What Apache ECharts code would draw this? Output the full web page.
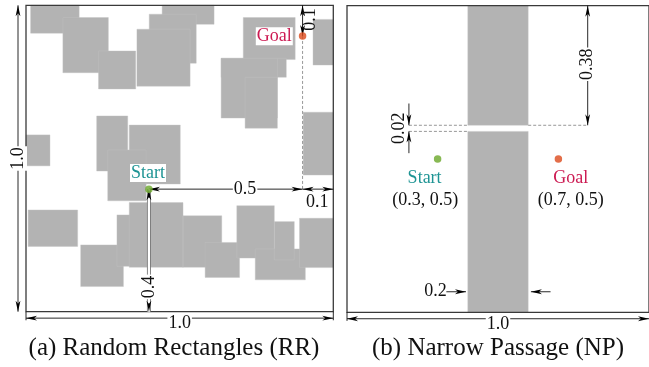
<!DOCTYPE html>
<html><head><meta charset="utf-8">
<script src="https://cdn.jsdelivr.net/npm/echarts@6/dist/echarts.min.js"></script>
<style>html,body{margin:0;padding:0;background:#fff}#c{width:649px;height:367px}</style>
</head><body><div id="c"></div>
<script>
// ---- Data (unit square coordinates) ----
// Random Rectangles obstacles: [x0, y0, x1, y1]
const rrObstacles = [
 [0.015,0.909,0.173,1.0],
 [0.12,0.78,0.268,0.96],
 [0.236,0.727,0.357,0.851],
 [0.443,0.938,0.612,1.0],
 [0.401,0.811,0.554,0.971],
 [0.361,0.736,0.534,0.922],
 [0.707,0.823,0.876,0.96],
 [0.635,0.765,0.847,0.827],
 [0.635,0.632,0.818,0.827],
 [0.713,0.599,0.818,0.765],
 [0.934,0.805,1.0,0.954],
 [0.902,0.446,1.0,0.651],
 [0,0.476,0.078,0.577],
 [0.23,0.459,0.331,0.639],
 [0.336,0.417,0.502,0.609],
 [0.266,0.362,0.391,0.528],
 [0.007,0.213,0.168,0.332],
 [0.178,0.082,0.317,0.218],
 [0.296,0.148,0.436,0.316],
 [0.336,0.145,0.511,0.356],
 [0.511,0.145,0.637,0.313],
 [0.583,0.112,0.695,0.226],
 [0.686,0.175,0.808,0.346],
 [0.746,0.104,0.909,0.205],
 [0.808,0.169,0.873,0.294],
 [0.89,0.144,1.0,0.305]
];
// Narrow Passage obstacles
const npObstacles = [[0.4,0,0.6,0.59],[0.4,0.61,0.6,1.0]];
// Start / goal points
const rrPoints = [[0.4,0.4],[0.9,0.9]];
const npPoints = [[0.3,0.5],[0.7,0.5]];
const pointColors = ['#6aa829','#dc4a1c'];
// Dimension lines: [x0, y0, x1, y1, headAtStart, headAtEnd, kind]
const rrDims = [
 [-0.026,0,-0.026,1,1,1,'solid'],
 [0,-0.021,1,-0.021,1,1,'solid'],
 [0,0,0,-0.028,0,0,'solid'],
 [1,0,1,-0.028,0,0,'solid'],
 [0.9,0.9,0.9,0.4,0,0,'dashed'],
 [0.4,0.4,0.9,0.4,1,1,'solid'],
 [0.9,0.4,1.0,0.4,1,1,'solid'],
 [0.9,1.0,0.9,0.9,1,1,'solid'],
 [0.4,0.4,0.4,0.0,1,1,'halo']
];
const npDims = [
 [0,-0.021,1,-0.021,1,1,'solid'],
 [0,0,0,-0.028,0,0,'solid'],
 [0.205,0.61,0.4,0.61,0,0,'dashed'],
 [0.205,0.59,0.4,0.59,0,0,'dashed'],
 [0.6,0.61,0.797,0.61,0,0,'dashed'],
 [0.797,1.0,0.797,0.61,1,1,'solid'],
 [0.205,0.681,0.205,0.61,0,1,'solid'],
 [0.205,0.519,0.205,0.59,0,1,'solid'],
 [0.329,0.067,0.394,0.067,0,1,'solid'],
 [0.674,0.067,0.609,0.067,0,1,'solid']
];
// Labels: [x, y, text, rotationDeg, kind]
const rrLabels = [
 [-0.026,0.5,'1.0',90,'dim'],
 [0.5,-0.039,'1.0',0,'dim'],
 [0.713,0.4,'0.5',0,'dim'],
 [0.948,0.358,'0.1',0,'plain'],
 [0.924,0.954,'0.1',90,'plain'],
 [0.4,0.081,'0.4',90,'dim'],
 [0.397,0.453,'Start',0,'start'],
 [0.808,0.899,'Goal',0,'goal']
];
const npLabels = [
 [0.5,-0.039,'1.0',0,'dim'],
 [0.797,0.809,'0.38',90,'dim'],
 [0.173,0.6,'0.02',90,'plain'],
 [0.257,0.437,'Start',0,'start'],
 [0.259,0.366,'(0.3, 0.5)',0,'plain'],
 [0.741,0.437,'Goal',0,'goal'],
 [0.741,0.366,'(0.7, 0.5)',0,'plain'],
 [0.293,0.067,'0.2',0,'plain']
];
const captions = ['(a) Random Rectangles (RR)','(b) Narrow Passage (NP)'];

// ---- Rendering ----
const SERIF = 'Liberation Serif';
const labelColors = {dim:'#111', plain:'#111', start:'#1e9494', goal:'#cc1a52'};

function rectRender(arr){
  return function(params, api){
    const d = arr[params.dataIndex];
    const a = api.coord([d[0], d[3]]), b = api.coord([d[2], d[1]]);
    return {type:'rect', shape:{x:a[0], y:a[1], width:b[0]-a[0], height:b[1]-a[1]},
      style:{fill:'#b3b3b3', stroke:'#c2c2c2', lineWidth:0.4}};
  };
}
function frameRender(params, api){
  const a = api.coord([0,1]), b = api.coord([1,0]);
  return {type:'rect', shape:{x:a[0], y:a[1], width:b[0]-a[0], height:b[1]-a[1]},
    style:{fill:'none', stroke:'#3a3a3a', lineWidth:1.3}};
}
function head(tip, from){
  const dx = tip[0]-from[0], dy = tip[1]-from[1];
  const L = Math.hypot(dx,dy) || 1, ux = dx/L, uy = dy/L;
  const len = 11, w = 2.4, notch = 8;
  return {type:'polygon', shape:{points:[
    tip,
    [tip[0]-ux*len-uy*w, tip[1]-uy*len+ux*w],
    [tip[0]-ux*notch, tip[1]-uy*notch],
    [tip[0]-ux*len+uy*w, tip[1]-uy*len-ux*w]
  ]}, style:{fill:'#000'}};
}
function dimRender(arr){
  return function(params, api){
    const d = arr[params.dataIndex];
    const p0 = api.coord([d[0], d[1]]), p1 = api.coord([d[2], d[3]]);
    const children = [];
    const shape = {x1:p0[0], y1:p0[1], x2:p1[0], y2:p1[1]};
    if (d[6] === 'dashed') {
      children.push({type:'line', shape, style:{stroke:'#8c8c8c', lineWidth:0.9, lineDash:[3,2]}});
    } else if (d[6] === 'halo') {
      children.push({type:'line', shape, style:{stroke:'#7a7a7a', lineWidth:4}});
      children.push({type:'line', shape, style:{stroke:'#ffffff', lineWidth:2.2}});
    } else {
      children.push({type:'line', shape, style:{stroke:'#111', lineWidth:0.9}});
    }
    if (d[4]) children.push(head(p0, p1));
    if (d[5]) children.push(head(p1, p0));
    return {type:'group', children};
  };
}
function labelRender(arr){
  return function(params, api){
    const d = arr[params.dataIndex];
    const p = api.coord([d[0], d[1]]);
    const bg = (d[4] === 'dim' || d[4] === 'start' || d[4] === 'goal');
    return {type:'text', x:p[0], y:p[1], rotation: d[3]*Math.PI/180,
      style:{text:d[2], fontFamily:SERIF, fontSize:18, fill:labelColors[d[4]], align:'center', verticalAlign:'middle',
        backgroundColor: bg ? '#ffffff' : null, padding: bg ? [0,1,0,1] : 0}};
  };
}
function xy(d){ return d.map(r => [r[0], r[1]]); }

function panelSeries(gi, obstacles, dims, labels, points){
  const base = {xAxisIndex:gi, yAxisIndex:gi};
  return [
    Object.assign({type:'custom', name:'obstacles'+gi, renderItem:rectRender(obstacles), data:obstacles.map(r=>r.slice(0,4)), z:1, silent:true}, base),
    Object.assign({type:'custom', name:'frame'+gi, renderItem:frameRender, data:[[0,0]], z:2, silent:true}, base),
    Object.assign({type:'custom', name:'dims'+gi, renderItem:dimRender(dims), data:xy(dims), z:3, silent:true}, base),
    Object.assign({type:'scatter', name:'points'+gi, symbol:'circle', symbolSize:7.5, z:4, silent:true,
      data:points.map((p,i)=>({value:p, itemStyle:{color:pointColors[i]}}))}, base),
    Object.assign({type:'custom', name:'labels'+gi, renderItem:labelRender(labels), data:xy(labels), z:5, silent:true}, base)
  ];
}

const axisOff = {type:'value', min:0, max:1, show:false};
const chart = echarts.init(document.getElementById('c'), null, {renderer:'canvas'});
chart.setOption({
  animation:false,
  backgroundColor:'#ffffff',
  grid:[
    {left:26, top:5.3, width:307.3, height:306.4},
    {left:347, top:5.7, width:307, height:306.6}
  ],
  xAxis:[Object.assign({gridIndex:0}, axisOff), Object.assign({gridIndex:1}, axisOff)],
  yAxis:[Object.assign({gridIndex:0}, axisOff), Object.assign({gridIndex:1}, axisOff)],
  series: panelSeries(0, rrObstacles, rrDims, rrLabels, rrPoints)
    .concat(panelSeries(1, npObstacles, npDims, npLabels, npPoints)),
  graphic:[
    {type:'text', x:174, y:348, style:{text:captions[0], fontFamily:SERIF, fontSize:25, fill:'#111', align:'center', verticalAlign:'middle'}},
    {type:'text', x:498, y:348, style:{text:captions[1], fontFamily:SERIF, fontSize:25, fill:'#111', align:'center', verticalAlign:'middle'}}
  ]
});
</script>
</body></html>
